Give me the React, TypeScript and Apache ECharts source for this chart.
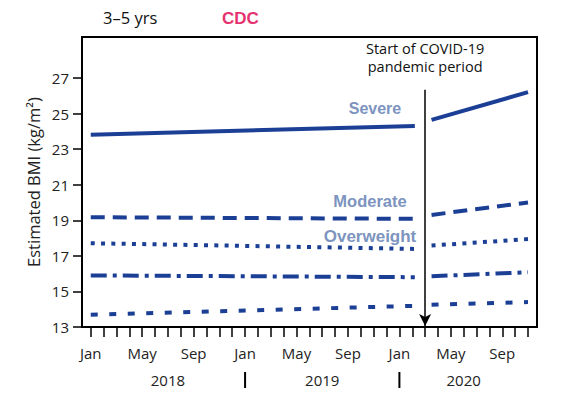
import React, { useEffect, useRef } from "react";
import * as echarts from "echarts";

// Months are counted from Jan 2018 (0) to Nov 2020 (34)
const monthTickValues = [0, 1, 2, 3, 4, 5, 6, 7, 8, 9, 10, 11, 12, 13, 14, 15, 16, 17, 18, 19, 20, 21, 22, 23, 24, 25, 26, 27, 28, 29, 30, 31, 32, 33, 34];
const monthLabelValues = [0, 4, 8, 12, 16, 20, 24, 28, 32];
const monthLabelNames = ["Jan", "May", "Sep", "Jan", "May", "Sep", "Jan", "May", "Sep"];
const yTickValues = [13, 15, 17, 19, 21, 23, 25, 27];
const years = ["2018", "2019", "2020"];
const yearCenters = [6, 18, 29];
const yearSeparators = [12, 24];

const preX = [0, 25.2];
const postX = [26.5, 34];
const pandemicStart = 26;

const severePre = [23.8, 24.3];
const severePost = [24.64, 26.2];
const moderatePre = [19.17, 19.08];
const moderatePost = [19.3, 20.0];
const overweightPre = [17.71, 17.39];
const overweightPost = [17.58, 17.94];
const healthyPre = [15.9, 15.8];
const healthyPost = [15.85, 16.08];
const lowPre = [13.69, 14.19];
const lowPost = [14.25, 14.4];

const LINE = "#1c3f96";
const LABEL = "#7d94c0";
const FONT = "'Open Sans', sans-serif";
const BOLD = "'Liberation Sans', Arial, sans-serif";

export default function App() {
  const ref = useRef<HTMLDivElement>(null);
  useEffect(() => {
    if (!ref.current) return;
    const chart = echarts.init(ref.current, undefined, { renderer: "svg" });
    const groups = [
      { name: "Severe", pre: severePre, post: severePost, type: "solid" as any },
      { name: "Moderate", pre: moderatePre, post: moderatePost, type: [14, 8] },
      { name: "Overweight", pre: overweightPre, post: overweightPost, type: [4, 6.3] },
      { name: "Healthy", pre: healthyPre, post: healthyPost, type: [16, 6, 4, 6] },
      { name: "Low", pre: lowPre, post: lowPost, type: [7, 11.5] },
    ];
    const series: any[] = [];
    groups.forEach((g) => {
      [
        [preX, g.pre],
        [postX, g.post],
      ].forEach(([xs, ys], k) => {
        series.push({
          type: "line",
          name: g.name + (k ? " post" : " pre"),
          data: xs.map((x: number, i: number) => [x, ys[i]]),
          showSymbol: false,
          symbol: "none",
          lineStyle: { color: LINE, width: 4, type: g.type, cap: "butt" },
          silent: true,
        });
      });
    });
    series.push({
      type: "line",
      name: "arrow",
      data: [],
      markLine: {
        silent: true,
        symbol: ["none", "arrow"],
        symbolSize: [9, 12],
        label: { show: false },
        lineStyle: { color: "#000", width: 1.5, type: "solid" },
        data: [
          [
            { coord: [pandemicStart, 26.33] },
            { coord: [pandemicStart, 13.05] },
          ],
        ],
      },
    });

    const option: any = {
      animation: false,
      grid: {
        left: 82,
        right: 25,
        top: 37,
        bottom: 69,
        show: true,
        borderColor: "#000",
        borderWidth: 2,
        backgroundColor: "transparent",
      },
      xAxis: {
        type: "value",
        min: -0.68,
        max: 34.7,
        axisLine: { show: true, onZero: false, lineStyle: { color: "#000", width: 2 } },
        axisTick: {
          show: true,
          customValues: monthTickValues,
          length: 10,
          lineStyle: { color: "#000", width: 1.5 },
        },
        axisLabel: {
          customValues: monthLabelValues,
          formatter: (v: number) => monthLabelNames[monthLabelValues.indexOf(Math.round(v))] ?? "",
          margin: 18,
          fontSize: 15,
          color: "#222",
          fontFamily: FONT,
        },
        splitLine: { show: false },
      },
      yAxis: {
        type: "value",
        min: 13,
        max: 29.3,
        axisLine: { show: true, onZero: false, lineStyle: { color: "#000", width: 2 } },
        axisTick: {
          show: true,
          customValues: yTickValues,
          length: 9,
          lineStyle: { color: "#000", width: 1.5 },
        },
        axisLabel: {
          customValues: yTickValues,
          margin: 13,
          fontSize: 15,
          color: "#222",
          fontFamily: FONT,
        },
        splitLine: { show: false },
      },
      series,
    };
    chart.setOption(option);

    const px = (x: number, y: number) => chart.convertToPixel({ gridIndex: 0 }, [x, y]) as number[];
    const graphic: any[] = [];
    graphic.push({
      type: "text",
      left: 103,
      top: 9,
      style: { text: "3–5 yrs", fontSize: 16.5, fontFamily: FONT, fill: "#111" },
    });
    graphic.push({
      type: "text",
      left: 222,
      top: 10,
      style: { text: "CDC", fontSize: 17, fontWeight: "bold", fontFamily: BOLD, fill: "#e6336f" },
    });
    graphic.push({
      type: "text",
      x: 33,
      y: 182,
      rotation: Math.PI / 2,
      style: {
        text: "Estimated BMI (kg/m²)",
        fontSize: 16.5,
        fontFamily: FONT,
        fill: "#222",
        align: "center",
        verticalAlign: "middle",
      },
    });
    const ps = px(pandemicStart, 27.9);
    graphic.push({
      type: "text",
      x: ps[0],
      y: 57,
      style: {
        text: "Start of COVID-19\npandemic period",
        fontSize: 14.5,
        lineHeight: 18,
        fontFamily: FONT,
        fill: "#111",
        align: "center",
        verticalAlign: "middle",
      },
    });
    const labels = [
      { t: "Severe", x: 375, y: 108, s: 16 },
      { t: "Moderate", x: 370, y: 201, s: 16.5 },
      { t: "Overweight", x: 370, y: 236, s: 17 },
    ];
    labels.forEach((l) =>
      graphic.push({
        type: "text",
        x: l.x,
        y: l.y,
        style: {
          text: l.t,
          fontSize: l.s,
          fontWeight: "bold",
          fontFamily: BOLD,
          fill: LABEL,
          align: "center",
          verticalAlign: "middle",
        },
      })
    );
    years.forEach((yr, i) => {
      const p = px(yearCenters[i], 13);
      graphic.push({
        type: "text",
        x: p[0],
        y: 380,
        style: { text: yr, fontSize: 15, fontFamily: FONT, fill: "#222", align: "center", verticalAlign: "middle" },
      });
    });
    yearSeparators.forEach((m) => {
      const p = px(m, 13);
      graphic.push({
        type: "line",
        shape: { x1: p[0], y1: 372, x2: p[0], y2: 388 },
        style: { stroke: "#000", lineWidth: 2 },
      });
    });
    chart.setOption({ graphic });
    return () => chart.dispose();
  }, []);
  return <div ref={ref} style={{ width: 562, height: 396, margin: -8, background: "#fff" }} />;
}
